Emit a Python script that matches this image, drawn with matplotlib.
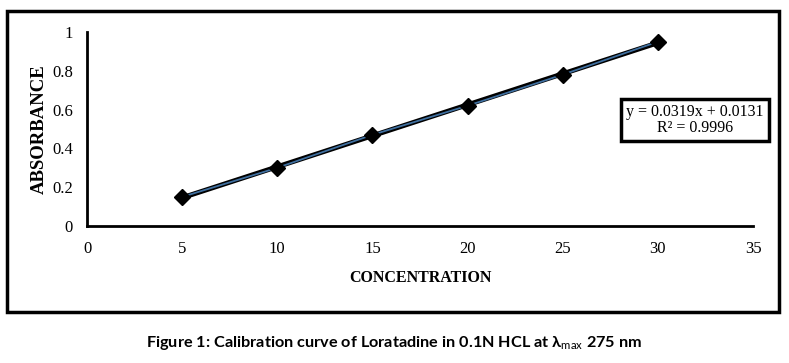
import numpy as np
import matplotlib
matplotlib.use("Agg")
import matplotlib.pyplot as plt
from matplotlib.patches import Rectangle

# calibration data
concentration = [5, 10, 15, 20, 25, 30]
absorbance    = [0.15, 0.30, 0.47, 0.62, 0.78, 0.95]
x_ticks = [0, 5, 10, 15, 20, 25, 30, 35]
y_ticks = [0, 0.2, 0.4, 0.6, 0.8, 1]
y_tick_labels = ["0", "0.2", "0.4", "0.6", "0.8", "1"]
eq_text = "y = 0.0319x + 0.0131\nR² = 0.9996"
caption = "Figure 1: Calibration curve of Loratadine in 0.1N HCL at λ$_{\\mathrm{max}}$ 275 nm"

SERIF = "Liberation Serif"
plt.rcParams["mathtext.fontset"] = "custom"
plt.rcParams["mathtext.rm"] = "Lato"
plt.rcParams["mathtext.bf"] = "Lato:bold"

fig = plt.figure(figsize=(7.89, 3.63), dpi=100)

# outer frame around the chart
fig.patches.append(Rectangle((7/789, 1-312/363), (779-7)/789, (312-11)/363,
                             transform=fig.transFigure, fill=False,
                             edgecolor="black", linewidth=2.5))

ax = fig.add_axes([87/789, 1-226/363, (753-87)/789, (226-32)/363])

# linear trendline (least squares on the data)
slope, inter = np.polyfit(concentration, absorbance, 1)
xs = np.array([concentration[0], concentration[-1]])
ax.plot(xs, slope*xs + inter, color="black", linewidth=3.5, zorder=2)
ax.plot(concentration, absorbance, color="#3f6f9f", linewidth=1.3,
        marker="D", markersize=8, markerfacecolor="black",
        markeredgecolor="black", zorder=3)

ax.set_xlim(0, 35)
ax.set_ylim(0, 1)
ax.set_xticks(x_ticks)
ax.set_yticks(y_ticks)
ax.set_yticklabels(y_tick_labels)
ax.tick_params(length=0, labelsize=12)
ax.tick_params(axis="x", pad=11)
ax.tick_params(axis="y", pad=10)
for lab in ax.get_xticklabels() + ax.get_yticklabels():
    lab.set_fontfamily(SERIF)
for side in ["top", "right"]:
    ax.spines[side].set_visible(False)
for side in ["left", "bottom"]:
    ax.spines[side].set_linewidth(2)

ax.set_xlabel("CONCENTRATION", fontfamily=SERIF, fontweight="bold",
              fontsize=11.5, labelpad=9)
ax.set_ylabel("ABSORBANCE", fontfamily=SERIF, fontweight="bold",
              fontsize=13.5, labelpad=3)

fig.text(695/789, 1-120/363, eq_text, fontfamily=SERIF, fontsize=11.5,
         ha="center", va="center", linespacing=1.05,
         bbox=dict(boxstyle="square,pad=0.3", facecolor="white",
                   edgecolor="black", linewidth=2.5))

fig.text(394/789, 1-343/363, caption, fontfamily=["Lato", "DejaVu Sans"],
         fontweight="bold", fontsize=11.7, ha="center", va="center")

fig.savefig("out.png", dpi=100)
